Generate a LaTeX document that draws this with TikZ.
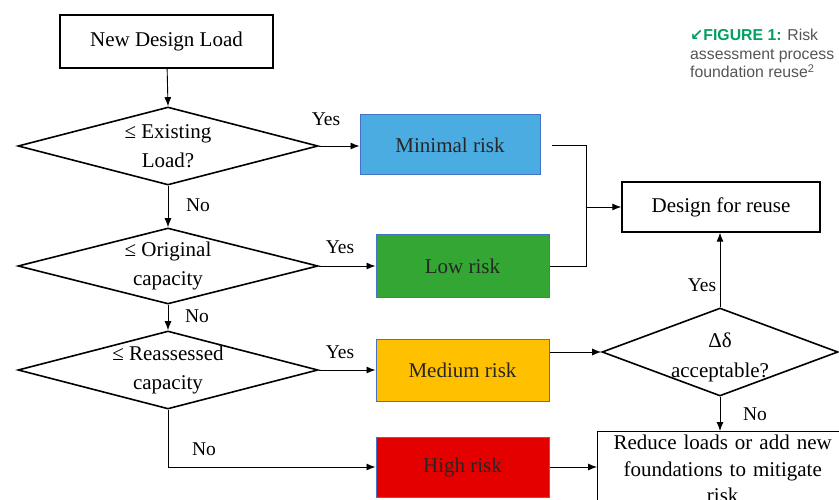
\documentclass[tikz,border=0pt]{standalone}
\usepackage{fontspec}
\setmainfont{Liberation Serif}
\newfontfamily\serfont{Liberation Serif}
\newfontfamily\capfont{Liberation Sans}
\newfontfamily\symfont{DejaVu Sans}
\usetikzlibrary{shapes.geometric,arrows.meta,calc}
\definecolor{cblue}{RGB}{75,172,226}
\definecolor{cgreen}{RGB}{52,166,52}
\definecolor{corange}{RGB}{255,192,0}
\definecolor{cred}{RGB}{229,0,0}
\definecolor{cborder}{RGB}{68,114,196}
\definecolor{capgreen}{RGB}{0,160,96}
\definecolor{capgray}{RGB}{85,85,85}
\tikzset{
  plainbox/.style={draw=black, line width=1.4pt, fill=white, inner sep=0pt, font=\serfont\fontsize{21}{26}\selectfont},
  riskbox/.style={draw=cborder, line width=1pt, inner sep=0pt, font=\serfont\fontsize{21}{26}\selectfont, text=black!85},
  dia/.style={draw=black, line width=1.6pt, diamond, inner sep=0pt},
  dtext/.style={align=center, inner sep=0pt, font=\serfont\fontsize{21}{29}\selectfont},
  lbl/.style={inner sep=0pt, font=\serfont\fontsize{19.5}{22}\selectfont},
  conn/.style={line width=0.9pt, -{Latex[length=9pt,width=7pt]}},
  plainline/.style={line width=0.9pt},
}
\begin{document}
\begin{tikzpicture}[x=1pt,y=-1pt]
\useasboundingbox (0,0) rectangle (839,500);
% boxes
\node[plainbox, minimum width=213pt, minimum height=53pt] (start) at (166.5,41.5) {New Design Load};
\node[plainbox, minimum width=198pt, minimum height=50pt] (reuse) at (721,207) {Design for reuse};
\node[riskbox, fill=cblue, minimum width=180pt, minimum height=60pt] (minr) at (450,145) {Minimal risk};
\node[riskbox, fill=cgreen, minimum width=173pt, minimum height=63pt] (lowr) at (462.5,266) {Low risk};
\node[riskbox, fill=corange, minimum width=173pt, minimum height=62pt] (medr) at (462.5,370) {Medium risk};
\node[riskbox, fill=cred, minimum width=173pt, minimum height=60pt] (highr) at (462.5,467) {High risk};
\node[plainbox, anchor=north west, minimum width=250pt, minimum height=85pt, text width=246pt, align=center, font=\serfont\fontsize{21}{26.5}\selectfont] (reduce) at (597,431) {\raisebox{0pt}{}\\[-22pt]Reduce loads or add new\\foundations to mitigate\\risk};
% diamonds
\node[dia, minimum width=300pt, minimum height=78pt] (d1) at (168,146) {};
\node[dtext] at (d1) {≤ Existing\\Load?};
\node[dia, minimum width=300pt, minimum height=76pt] (d2) at (168,266) {};
\node[dtext] at (d2) {≤ Original\\capacity};
\node[dia, minimum width=300pt, minimum height=78pt] (d3) at (168,370) {};
\node[dtext] at (d3) {≤ Reassessed\\capacity};
\node[dia, minimum width=236pt, minimum height=88pt] (d4) at (720,352) {};
\node[dtext, font=\serfont\fontsize{21}{30}\selectfont] at ($(d4)+(0,5)$) {Δδ\\acceptable?};
% connectors
\draw[conn] (start) -- (d1.north);
\draw[conn] (d1.south) -- (d2.north);
\draw[conn] (d2.south) -- (d3.north);
\draw[conn] (d1.east) -- (minr.west |- d1.east);
\draw[conn] (d2.east) -- (lowr.west |- d2.east);
\draw[conn] (d3.east) -- (medr.west |- d3.east);
\draw[conn] (d3.south) |- (highr.west);
\coordinate (j) at (586,207);
\draw[plainline] ([xshift=11pt]minr.east) -| (j);
\draw[plainline] (lowr.east) -| (j);
\draw[conn] (j) -- (reuse.west |- j);
\draw[conn] (medr.east |- d4.west) -- (d4.west);
\draw[conn] (d4.north) -- (reuse.south -| d4.north);
\draw[conn] (d4.south) -- (reduce.north -| d4.south);
\draw[conn] (highr.east) -- (highr.east -| reduce.west);
% labels
\node[lbl] at (326,119) {Yes};
\node[lbl] at (340,247) {Yes};
\node[lbl] at (340,352) {Yes};
\node[lbl] at (702,285) {Yes};
\node[lbl] at (198,205) {No};
\node[lbl] at (197,316) {No};
\node[lbl] at (204,449) {No};
\node[lbl] at (755,414) {No};
% caption
\node[anchor=north west, align=left, inner sep=0pt, text=capgray, font=\capfont\fontsize{15.8}{18.5}\selectfont] (cap) at (690,29) {{\color{capgreen}\symfont\bfseries ↙}{\color{capgreen}\bfseries FIGURE 1:} Risk\\assessment process\\foundation reuse\textsuperscript{2}};
\end{tikzpicture}
\end{document}
